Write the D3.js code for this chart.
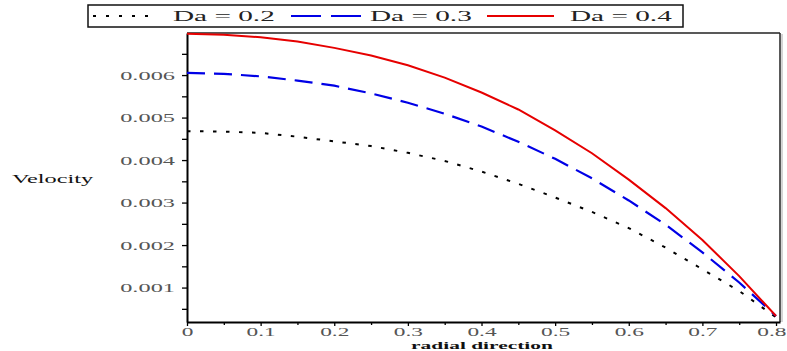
<!DOCTYPE html>
<html>
<head>
<meta charset="utf-8">
<script src="https://cdn.jsdelivr.net/npm/d3@7"></script>
<style>
  html, body { margin: 0; padding: 0; background: #fff; }
  svg { display: block; }
</style>
</head>
<body>
<svg id="chart" width="787" height="351"></svg>
<script>
// Velocity profiles across the radial direction for three Darcy numbers
const radial = [0, 0.05, 0.1, 0.15, 0.2, 0.25, 0.3, 0.35, 0.4, 0.45, 0.5, 0.55, 0.6, 0.65, 0.7, 0.75, 0.8];
const da02 = [0.00468, 0.00467, 0.00464, 0.00455, 0.00444, 0.00433, 0.00417, 0.00398, 0.00373, 0.00344, 0.00312, 0.00278, 0.00240, 0.00194, 0.00143, 0.00092, 0.00030];
const da03 = [0.00605, 0.00603, 0.00597, 0.00587, 0.00575, 0.00557, 0.00535, 0.00509, 0.00479, 0.00443, 0.00403, 0.00357, 0.00305, 0.00248, 0.00183, 0.00112, 0.00033];
const da04 = [0.00697, 0.00695, 0.00689, 0.00679, 0.00664, 0.00646, 0.00623, 0.00594, 0.00559, 0.00519, 0.00470, 0.00416, 0.00354, 0.00287, 0.00212, 0.00127, 0.00033];
const seriesNames = ["Da = 0.2", "Da = 0.3", "Da = 0.4"];

const yTicks = [0.001, 0.002, 0.003, 0.004, 0.005, 0.006];
const yTickLabels = ["0.001", "0.002", "0.003", "0.004", "0.005", "0.006"];
const yMinor = [0.0005, 0.0015, 0.0025, 0.0035, 0.0045, 0.0055, 0.0065];
const xTicks = [0, 0.1, 0.2, 0.3, 0.4, 0.5, 0.6, 0.7, 0.8];
const xTickLabels = ["0", "0.1", "0.2", "0.3", "0.4", "0.5", "0.6", "0.7", "0.8"];
const xMinor = [0.05, 0.15, 0.25, 0.35, 0.45, 0.55, 0.65, 0.75];

const svg = d3.select("#chart");
const SX = 1.95;            // glyphs are drawn wide (horizontal stretch)
const serif = "'Liberation Serif', 'Times New Roman', serif";

const x = d3.scaleLinear().domain([0, 0.8054]).range([187, 780]);
const y = d3.scaleLinear().domain([0.00019, 0.00699]).range([322, 33]);

// frame: top and right border
svg.append("line").attr("x1", 187).attr("x2", 780).attr("y1", 33).attr("y2", 33)
  .attr("stroke", "#222").attr("stroke-width", 1.5);
svg.append("line").attr("x1", 780).attr("x2", 780).attr("y1", 33).attr("y2", 322)
  .attr("stroke", "#222").attr("stroke-width", 1.5);
svg.append("line").attr("x1", 782).attr("x2", 782).attr("y1", 34).attr("y2", 322)
  .attr("stroke", "#aaa").attr("stroke-width", 1);

// left axis: major ticks with labels, minor ticks in between
const gy = svg.append("g").attr("transform", "translate(187,0)")
  .call(d3.axisLeft(y).tickValues(yTicks).tickFormat((d, i) => yTickLabels[i]).tickSize(5).tickSizeOuter(0));
gy.selectAll(".tick text")
  .attr("x", -12 / SX)
  .attr("transform", `scale(${SX},1)`)
  .attr("font-family", serif).attr("font-size", 12.5).attr("fill", "#555");
gy.append("g").call(d3.axisLeft(y).tickValues(yMinor).tickFormat("").tickSize(5).tickSizeOuter(0))
  .select(".domain").remove();
gy.selectAll(".domain").attr("stroke", "#000").attr("stroke-width", 2);
gy.selectAll(".tick line").attr("stroke", "#000").attr("stroke-width", 1.3);

// bottom axis
const gx = svg.append("g").attr("transform", "translate(0,322)")
  .call(d3.axisBottom(x).tickValues(xTicks).tickFormat((d, i) => xTickLabels[i]).tickSize(4).tickSizeOuter(0));
const xLabels = gx.selectAll(".tick text")
  .attr("y", 5)
  .attr("transform", `scale(${SX},1)`)
  .attr("font-family", serif).attr("font-size", 12).attr("fill", "#555");
// last label sits against the right edge of the page
xLabels.filter((d, i, n) => i === n.length - 1)
  .attr("text-anchor", "end")
  .attr("x", (786 - x(xTicks[xTicks.length - 1])) / SX);
gx.append("g").call(d3.axisBottom(x).tickValues(xMinor).tickFormat("").tickSize(3).tickSizeOuter(0))
  .select(".domain").remove();
gx.selectAll(".domain").attr("stroke", "#000").attr("stroke-width", 2);
gx.selectAll(".tick line").attr("stroke", "#000").attr("stroke-width", 1.3);

// axis titles
svg.append("text").attr("transform", `translate(12,183) scale(${SX},1)`)
  .attr("font-family", serif).attr("font-size", 12.5)
  .attr("fill", "#111").text("Velocity");
svg.append("text").attr("transform", `translate(482,348.5) scale(${SX},1)`)
  .attr("text-anchor", "middle")
  .attr("font-family", serif).attr("font-size", 11).attr("font-weight", "bold")
  .attr("fill", "#111").text("radial direction");

// curves
const series = [
  { name: seriesNames[0], values: da02, color: "#000", dash: "3.5,9.5", width: 2 },
  { name: seriesNames[1], values: da03, color: "#0000e6", dash: "18,9", width: 2.2 },
  { name: seriesNames[2], values: da04, color: "#e60000", dash: null, width: 2 }
];
const line = d3.line().x(d => x(d[0])).y(d => y(d[1]));
series.forEach(s => {
  svg.append("path")
    .datum(radial.map((r, i) => [r, s.values[i]]))
    .attr("d", line)
    .attr("fill", "none")
    .attr("stroke", s.color)
    .attr("stroke-width", s.width)
    .attr("stroke-dasharray", s.dash);
});

// legend
const lg = svg.append("g");
lg.append("rect").attr("x", 88).attr("y", 5).attr("width", 595).attr("height", 22)
  .attr("fill", "#fff").attr("stroke", "#111").attr("stroke-width", 1.5);
const legendPos = [
  { x1: 93, x2: 155, tx: 173 },
  { x1: 291, x2: 361, tx: 370 },
  { x1: 487, x2: 554, tx: 570 }
];
series.forEach((s, i) => {
  const p = legendPos[i];
  lg.append("line").attr("x1", p.x1).attr("x2", p.x2).attr("y1", 16).attr("y2", 16)
    .attr("stroke", s.color).attr("stroke-width", s.width)
    .attr("stroke-dasharray", i === 0 ? "3,10" : (i === 1 ? "30,10" : null));
  lg.append("text").attr("transform", `translate(${p.tx},21) scale(${SX},1)`)
    .attr("font-family", serif).attr("font-size", 15).attr("fill", "#222")
    .text(s.name);
});
</script>
</body>
</html>
